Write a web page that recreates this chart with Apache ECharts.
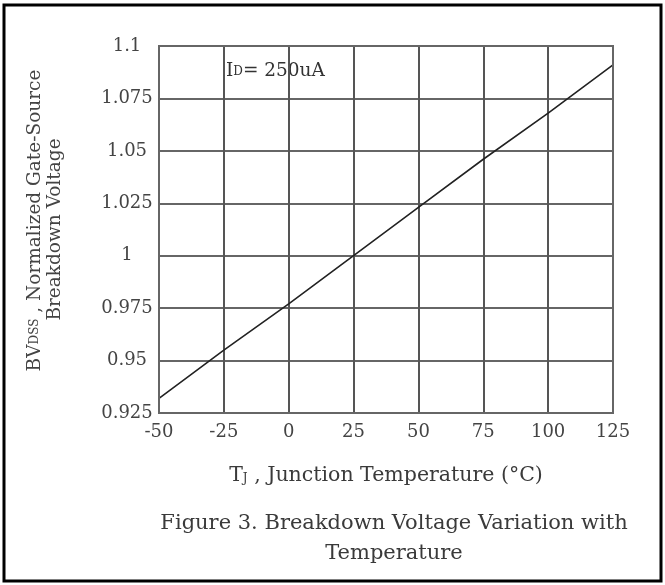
<!DOCTYPE html>
<html>
<head>
<meta charset="utf-8">
<script src="https://cdn.jsdelivr.net/npm/echarts@6/dist/echarts.min.js"></script>
<style>
html,body{margin:0;padding:0;background:#fff;}
#chart{width:665px;height:585px;}
</style>
</head>
<body>
<div id="chart"></div>
<script>
// Data
const temperatures = [-50, -25, 0, 25, 50, 75, 100, 125];
const normalizedBV = [0.932, 0.955, 0.977, 1.000, 1.023, 1.046, 1.068, 1.091];
const xTicks = { min: -50, max: 125, interval: 25 };
const yTicks = { min: 0.925, max: 1.1, interval: 0.025 };
const annotationText = '250uA';
const captionLines = ['Figure 3. Breakdown Voltage Variation with', 'Temperature'];

const serif = '"DejaVu Serif", "Liberation Serif", serif';
const chart = echarts.init(document.getElementById('chart'), null, { renderer: 'canvas' });

const seriesData = temperatures.map((t, i) => [t, normalizedBV[i]]);
const gridColor = '#666';

chart.setOption({
  animation: false,
  backgroundColor: '#fff',
  grid: { left: 159, top: 46, right: 52, bottom: 172, containLabel: false, show: false },
  xAxis: {
    type: 'value',
    min: xTicks.min, max: xTicks.max, interval: xTicks.interval,
    name: '{t|T}{s|J}{t| , Junction Temperature (°C)}',
    nameLocation: 'middle',
    nameGap: 52,
    nameTextStyle: {
      rich: {
        t: { fontFamily: serif, fontSize: 20.5, color: '#3a3a3a' },
        s: { fontFamily: serif, fontSize: 12, color: '#3a3a3a', padding: [7, 0, 0, 0] }
      }
    },
    axisLine: { show: true, onZero: false, lineStyle: { color: gridColor, width: 2 } },
    axisTick: { show: false },
    axisLabel: { fontFamily: serif, fontSize: 18, color: '#444', margin: 10 },
    splitLine: { show: true, lineStyle: { color: '#555', width: 2 } }
  },
  yAxis: {
    type: 'value',
    min: yTicks.min, max: yTicks.max, interval: yTicks.interval,
    name: '{p|BV}{s|DSS}{t| , Normalized Gate-Source}\n{t|Breakdown Voltage}',
    nameLocation: 'middle',
    nameRotate: 90,
    nameGap: 94,
    nameTextStyle: {
      lineHeight: 20,
      rich: {
        p: { fontFamily: serif, fontSize: 18.5, color: '#444', lineHeight: 20, padding: [0, 0, 0, 18] },
        t: { fontFamily: serif, fontSize: 18.5, color: '#444', lineHeight: 20 },
        s: { fontFamily: serif, fontSize: 12, color: '#444', lineHeight: 20 }
      }
    },
    axisLine: { show: true, onZero: false, lineStyle: { color: gridColor, width: 2 } },
    axisTick: { show: false },
    axisLabel: { fontFamily: serif, fontSize: 18, color: '#444', margin: 32, align: 'center' },
    splitLine: { show: true, lineStyle: { color: gridColor, width: 2 } }
  },
  series: [{
    type: 'line',
    data: seriesData,
    showSymbol: false,
    symbol: 'none',
    lineStyle: { color: '#222', width: 1.6 },
    silent: true
  }],
  graphic: [
    {
      type: 'rect',
      shape: { x: 4, y: 5, width: 657, height: 576 },
      style: { fill: 'none', stroke: '#000', lineWidth: 3 },
      z: 10
    },
    {
      type: 'rect',
      shape: { x: 159, y: 46, width: 454, height: 367 },
      style: { fill: 'none', stroke: gridColor, lineWidth: 2 },
      z: 5
    },
    {
      type: 'text',
      x: 226, y: 62,
      style: {
        text: '{t|I}{s|D}{t|= ' + annotationText + '}',
        rich: {
          t: { fontFamily: serif, fontSize: 18.5, fill: '#333' },
          s: { fontFamily: serif, fontSize: 12, fill: '#333' }
        }
      }
    },
    {
      type: 'text',
      x: 394, y: 509,
      style: {
        text: captionLines.join('\n'),
        fontFamily: serif, fontSize: 21, fill: '#3a3a3a',
        textAlign: 'center', lineHeight: 30
      }
    }
  ]
});
</script>
</body>
</html>
